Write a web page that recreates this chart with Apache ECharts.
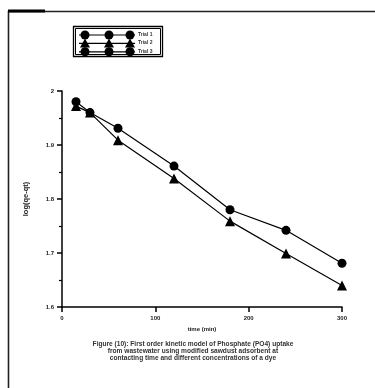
<!DOCTYPE html>
<html><head><meta charset="utf-8">
<script src="https://cdn.jsdelivr.net/npm/echarts@6/dist/echarts.min.js"></script>
<style>html,body{margin:0;padding:0;background:#fff}#c{width:375px;height:388px}</style>
</head><body><div id="c"></div>
<script>
var times = [15, 30, 60, 120, 180, 240, 300];
var series1 = [1.980, 1.960, 1.931, 1.861, 1.780, 1.742, 1.681];
var series2 = [1.972, 1.960, 1.909, 1.838, 1.759, 1.699, 1.640];
var legendNames = ['Trial 1', 'Trial 2', 'Trial 3'];
var xTicks = [0, 100, 200, 300];
var yTicks = [1.6, 1.7, 1.8, 1.9, 2.0];
var captionLines = [
  'Figure (10): First order kinetic model of Phosphate (PO4) uptake',
  'from wastewater using modified sawdust adsorbent at',
  'contacting time and different concentrations of a dye'
];

function pairs(xs, ys){ return xs.map(function(x,i){ return [x, ys[i]]; }); }

var chart = echarts.init(document.getElementById('c'), null, {renderer:'canvas'});
var lblStyle = {fontSize:6, fontWeight:'bold', color:'#222', fontFamily:'Liberation Sans'};

var legendGraphics = [];
var legendSymbols = ['circle', 'triangle', 'circle'];
legendNames.forEach(function(n, i){
  var y = 35 + i*8.4;
  legendGraphics.push({type:'line', shape:{x1:79,y1:y,x2:135,y2:y}, style:{stroke:'#000', lineWidth:1.2}});
  [85, 109, 130].forEach(function(x){
    if (legendSymbols[i] === 'triangle') {
      legendGraphics.push({type:'polygon', shape:{points:[[x,y-5],[x-5,y+4],[x+5,y+4]]}, style:{fill:'#000'}});
    } else {
      legendGraphics.push({type:'circle', shape:{cx:x, cy:y, r:4.5}, style:{fill:'#000'}});
    }
  });
  legendGraphics.push({type:'text', left:138, top:y-3, style:{text:n, font:'bold 5px "Liberation Sans"', fill:'#333'}});
});

var captionGraphics = captionLines.map(function(t, i){
  return {type:'text', x:193, y:344 + i*7, style:{text:t, font:'bold 6.6px "Liberation Sans"', fill:'#333', textAlign:'center', textVerticalAlign:'middle'}};
});

chart.setOption({
  animation:false,
  backgroundColor:'#fff',
  grid:{left:62, right:33, top:91, bottom:81},
  xAxis:{
    type:'value', min:0, max:300, interval:100,
    name:'time (min)', nameLocation:'middle', nameGap:17,
    nameTextStyle:lblStyle,
    axisLine:{show:true, lineStyle:{color:'#000', width:1.5}},
    axisTick:{show:true, length:5, lineStyle:{color:'#000', width:1.5}},
    axisLabel:Object.assign({margin:8, formatter:function(v){ return xTicks.indexOf(v)>=0 ? String(v) : ''; }}, lblStyle),
    splitLine:{show:false}
  },
  yAxis:{
    type:'value', min:1.6, max:2.0, interval:0.1,
    name:'log(qe-qt)', nameLocation:'middle', nameGap:32,
    nameTextStyle:{fontSize:7.5, fontWeight:'bold', color:'#222', fontFamily:'Liberation Sans'},
    axisLine:{show:true, lineStyle:{color:'#000', width:1.5}},
    axisTick:{show:true, length:5, lineStyle:{color:'#000', width:1.5}},
    minorTick:{show:true, splitNumber:2, length:3, lineStyle:{color:'#000', width:1.2}},
    axisLabel:Object.assign({margin:8, formatter:function(v){ var r=Math.round(v*10)/10; return yTicks.indexOf(r)>=0 ? String(r) : ''; }}, lblStyle),
    splitLine:{show:false}
  },
  series:[
    {name:legendNames[0], type:'line', data:pairs(times, series1), symbol:'circle', symbolSize:9,
     itemStyle:{color:'#000'}, lineStyle:{color:'#000', width:1.2}},
    {name:legendNames[1], type:'line', data:pairs(times, series2), symbol:'triangle', symbolSize:10,
     itemStyle:{color:'#000'}, lineStyle:{color:'#000', width:1.2}}
  ],
  graphic:[
    {type:'rect', shape:{x:8.5, y:11.5, width:420, height:420}, style:{fill:'none', stroke:'#222', lineWidth:1.6}},
    {type:'line', shape:{x1:8, y1:11, x2:45, y2:11}, style:{stroke:'#000', lineWidth:3}},
    {type:'rect', shape:{x:73.5, y:26.5, width:89, height:30}, style:{fill:'#fff', stroke:'#000', lineWidth:1.3}},
    {type:'rect', shape:{x:75.5, y:28.5, width:85, height:26}, style:{fill:'none', stroke:'#000', lineWidth:1}}
  ].concat(legendGraphics).concat(captionGraphics)
});
</script>
</body></html>
